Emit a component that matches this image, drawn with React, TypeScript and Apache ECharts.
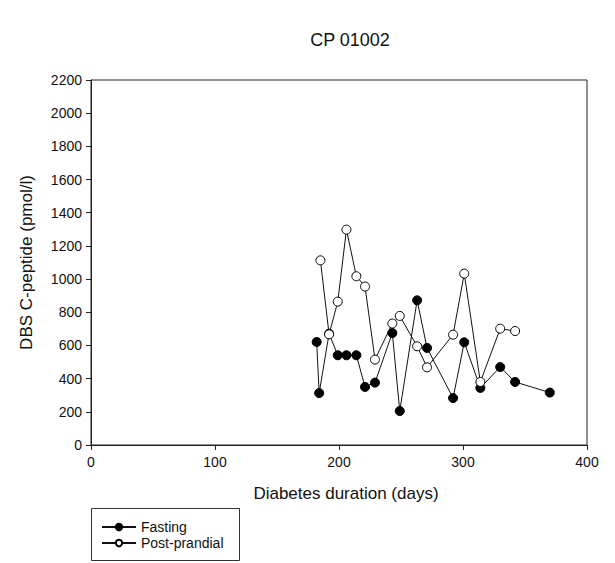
import React, { useEffect, useRef } from "react";
import * as echarts from "echarts";

const title = "CP 01002";
const xName = "Diabetes duration (days)";
const yName = "DBS C-peptide (pmol/l)";
const seriesNames = ["Fasting", "Post-prandial"];

const fastingDays = [182, 184, 192, 199, 206, 214, 221, 229, 243, 249, 263, 271, 292, 301, 314, 330, 342, 370];
const fastingValues = [621, 313, 671, 541, 541, 541, 350, 376, 675, 205, 872, 585, 283, 619, 344, 470, 380, 316];

const ppDays = [185, 192, 199, 206, 214, 221, 229, 243, 249, 263, 271, 292, 301, 314, 330, 342];
const ppValues = [1113, 667, 864, 1298, 1017, 955, 515, 732, 778, 595, 468, 665, 1033, 380, 701, 687];

const FONT = "'Liberation Sans', Arial, sans-serif";

export default function App() {
  const ref = useRef<HTMLDivElement>(null);
  useEffect(() => {
    if (!ref.current) return;
    const chart = echarts.init(ref.current, null, { renderer: "svg" });
    const fasting = fastingDays.map((d, i) => [d, fastingValues[i]]);
    const pp = ppDays.map((d, i) => [d, ppValues[i]]);
    chart.setOption({
      animation: false,
      backgroundColor: "#fff",
      textStyle: { fontFamily: FONT, color: "#111" },
      title: {
        text: title,
        left: 345,
        top: 26,
        textAlign: "center",
        textStyle: { fontFamily: FONT, fontSize: 18, fontWeight: "normal", color: "#111" },
      },
      grid: {
        left: 91,
        right: 28,
        top: 80,
        bottom: 118,
        show: true,
        borderColor: "#222",
        borderWidth: 1,
      },
      xAxis: {
        type: "value",
        min: 0,
        max: 400,
        interval: 100,
        name: xName,
        nameLocation: "middle",
        nameGap: 40,
        nameTextStyle: { fontFamily: FONT, fontSize: 17, color: "#111", padding: [0, 0, 0, 14] },
        axisLine: { show: true, onZero: false, lineStyle: { color: "#222", width: 1 } },
        axisTick: { show: true, inside: false, length: 5, lineStyle: { color: "#222" } },
        axisLabel: { fontFamily: FONT, fontSize: 14, color: "#111", margin: 10, formatter: (v: number) => String(v) },
        splitLine: { show: false },
      },
      yAxis: {
        type: "value",
        min: 0,
        max: 2200,
        interval: 200,
        name: yName,
        nameLocation: "middle",
        nameGap: 56,
        nameTextStyle: { fontFamily: FONT, fontSize: 17, color: "#111" },
        axisLine: { show: true, onZero: false, lineStyle: { color: "#222", width: 1 } },
        axisTick: { show: true, inside: false, length: 5, lineStyle: { color: "#222" } },
        axisLabel: { fontFamily: FONT, fontSize: 14, color: "#111", margin: 9, formatter: (v: number) => String(v) },
        splitLine: { show: false },
      },
      legend: {
        orient: "vertical",
        left: 96,
        top: 515,
        itemWidth: 34,
        itemHeight: 8,
        itemGap: 2,
        selectedMode: false,
        textStyle: { fontFamily: FONT, fontSize: 14, color: "#111" },
        data: seriesNames,
      },
      graphic: [
        {
          type: "rect",
          shape: { x: 91.5, y: 508.5, width: 148, height: 52 },
          style: { fill: "none", stroke: "#333", lineWidth: 1 },
          silent: true,
        },
      ],
      series: [
        {
          name: seriesNames[0],
          type: "line",
          data: fasting,
          symbol: "circle",
          symbolSize: 9,
          lineStyle: { color: "#111", width: 1 },
          itemStyle: { color: "#000", borderColor: "#000", borderWidth: 1 },
          z: 2,
        },
        {
          name: seriesNames[1],
          type: "line",
          data: pp,
          symbol: "circle",
          symbolSize: 9,
          lineStyle: { color: "#111", width: 1 },
          itemStyle: { color: "#fff", borderColor: "#000", borderWidth: 1 },
          z: 3,
        },
      ],
    });
    return () => chart.dispose();
  }, []);
  return <div ref={ref} style={{ width: 615, height: 563, position: "absolute", left: 0, top: 0 }} />;
}
